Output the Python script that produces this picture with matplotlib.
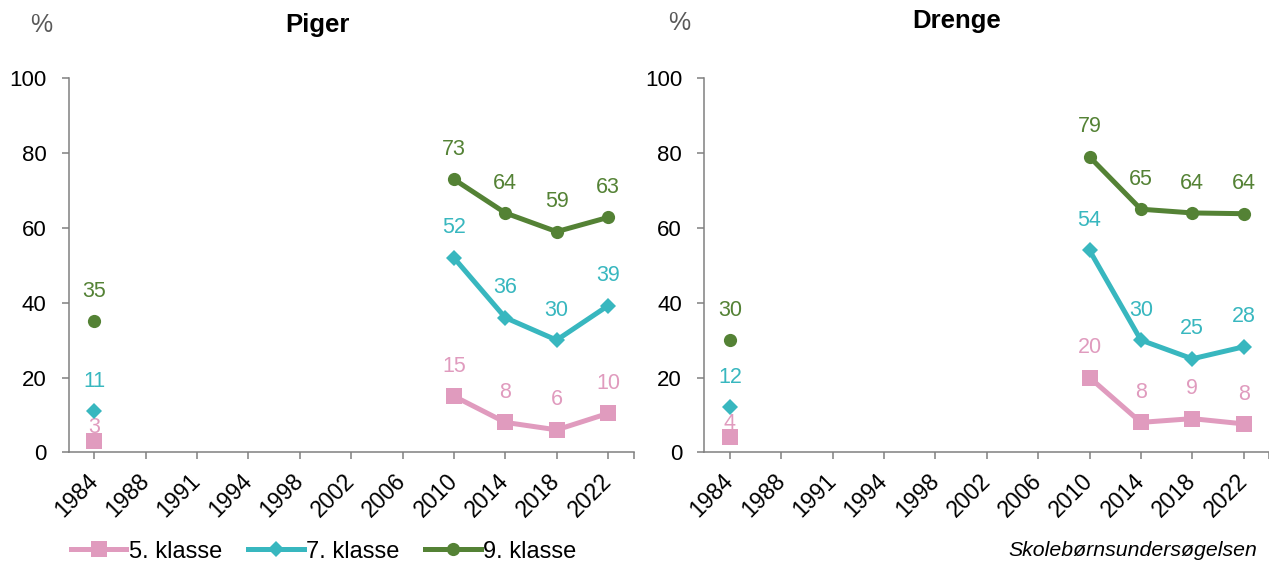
import numpy as np
import matplotlib
matplotlib.use("Agg")
import matplotlib.pyplot as plt
import matplotlib.transforms as mtransforms
from matplotlib.ticker import FixedLocator

plt.rcParams["font.family"] = ["Liberation Sans", "DejaVu Sans"]

# data (survey years are plotted as evenly spaced categories)
years = ["1984", "1988", "1991", "1994", "1998", "2002", "2006", "2010", "2014", "2018", "2022"]
nan = np.nan
piger_5 = [3, nan, nan, nan, nan, nan, nan, 15, 8, 6, 10.4]
piger_7 = [11, nan, nan, nan, nan, nan, nan, 52, 36, 30, 39.2]
piger_9 = [35, nan, nan, nan, nan, nan, nan, 73, 64, 59, 62.8]
drenge_5 = [4, nan, nan, nan, nan, nan, nan, 20, 8, 9, 7.6]
drenge_7 = [12, nan, nan, nan, nan, nan, nan, 54, 30, 25, 28.2]
drenge_9 = [30, nan, nan, nan, nan, nan, nan, 79, 65, 64, 63.8]
series_names = ["5. klasse", "7. klasse", "9. klasse"]

colors = ["#E09BBE", "#38B7BF", "#548235"]
markers = ["s", "D", "o"]
msizes = [11.5, 8.5, 9.5]

W, H = 1269, 563
fig = plt.figure(figsize=(W / 100, H / 100), dpi=100)
x = np.arange(len(years))


def draw_panel(ax, data):
    lines = []
    for vals, name, c, m, ms in zip(data, series_names, colors, markers, msizes):
        ln, = ax.plot(x, vals, color=c, marker=m, markersize=ms, linewidth=3.6,
                      markeredgewidth=0, label=name, clip_on=False, zorder=3)
        lines.append(ln)
        for i, v in enumerate(vals):
            if np.isnan(v):
                continue
            # the 1984 label of 5. klasse sits closer to its point
            dy = 10 if (name == "5. klasse" and i == 0) else 21.5
            ax.annotate(f"{round(v):d}", (x[i], v), xytext=(0, dy),
                        textcoords="offset points", ha="center", va="center",
                        color=c, fontsize=15.5)

    ax.set_xlim(-0.5, 10.5)
    ax.set_ylim(0, 100)
    ax.set_yticks(range(0, 101, 20))
    ax.set_xticks(x)
    ax.set_xticklabels(years, rotation=45, ha="right", va="center",
                       rotation_mode="anchor", fontsize=16.5)
    shift = mtransforms.ScaledTranslation(8 / 72, 0, fig.dpi_scale_trans)
    for lab in ax.get_xticklabels():
        lab.set_transform(lab.get_transform() + shift)
    ax.xaxis.set_minor_locator(FixedLocator([10.5]))

    for s in ["top", "right"]:
        ax.spines[s].set_visible(False)
    for s in ["left", "bottom"]:
        ax.spines[s].set_color("#808080")
        ax.spines[s].set_linewidth(1.1)
    ax.tick_params(axis="both", which="both", direction="out", length=5,
                   width=1.1, color="#808080", labelcolor="black")
    ax.tick_params(axis="y", pad=11, labelsize=16)
    ax.tick_params(axis="x", pad=13)
    ax.patch.set_visible(False)
    return lines


ax1 = fig.add_axes([68.7 / W, 1 - 452.3 / H, 565 / W, 374 / H])
ax2 = fig.add_axes([704.3 / W, 1 - 452.3 / H, 565 / W, 374 / H])
handles = draw_panel(ax1, [piger_5, piger_7, piger_9])
draw_panel(ax2, [drenge_5, drenge_7, drenge_9])

fig.text(317.5 / W, 1 - 25 / H, "Piger", ha="center", va="center",
         fontsize=18.5, fontweight="bold")
fig.text(956.7 / W, 1 - 21 / H, "Drenge", ha="center", va="center",
         fontsize=18.5, fontweight="bold")
fig.text(41.5 / W, 1 - 25 / H, "%", ha="center", va="center",
         fontsize=18, color="#595959")
fig.text(678.7 / W, 1 - 23 / H, "%", ha="center", va="center",
         fontsize=18, color="#595959")

fig.legend(handles, series_names, loc="center left",
           bbox_to_anchor=(71 / W, 1 - 551.7 / H), ncol=3, frameon=False,
           fontsize=17, handlelength=2.35, handletextpad=0.1,
           columnspacing=1.1, borderpad=0, borderaxespad=0, numpoints=1)

fig.text(1257 / W, 1 - 550 / H, "Skolebørnsundersøgelsen", ha="right",
         va="center", fontsize=15.3, style="italic")

fig.savefig("out.png", dpi=100)
